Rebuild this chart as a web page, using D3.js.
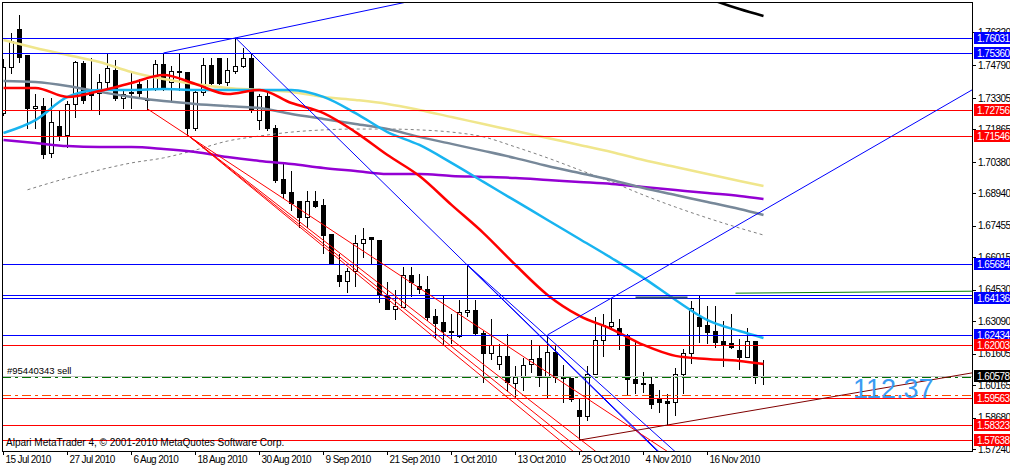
<!DOCTYPE html>
<html><head><meta charset="utf-8">
<script src="https://cdn.jsdelivr.net/npm/d3@7"></script>
<style>
body{margin:0;background:#fff}
svg{display:block}
text{font-family:"Liberation Sans",Arial,sans-serif}
</style>
</head><body>
<svg id="c" width="1010" height="468"></svg>
<script>
// ---------- DATA ----------
const dates = ["15 Jul","16 Jul","19 Jul","20 Jul","21 Jul","22 Jul","23 Jul","26 Jul","27 Jul","28 Jul","29 Jul","30 Jul",
"2 Aug","3 Aug","4 Aug","5 Aug","6 Aug","9 Aug","10 Aug","11 Aug","12 Aug","13 Aug","16 Aug","17 Aug","18 Aug","19 Aug","20 Aug","23 Aug","24 Aug","25 Aug","26 Aug","27 Aug","30 Aug","31 Aug",
"1 Sep","2 Sep","3 Sep","6 Sep","7 Sep","8 Sep","9 Sep","10 Sep","13 Sep","14 Sep","15 Sep","16 Sep","17 Sep","20 Sep","21 Sep","22 Sep","23 Sep","24 Sep","27 Sep","28 Sep","29 Sep","30 Sep",
"1 Oct","4 Oct","5 Oct","6 Oct","7 Oct","8 Oct","11 Oct","12 Oct","13 Oct","14 Oct","15 Oct","18 Oct","19 Oct","20 Oct","21 Oct","22 Oct","25 Oct","26 Oct","27 Oct","28 Oct","29 Oct",
"1 Nov","2 Nov","3 Nov","4 Nov","5 Nov","8 Nov","9 Nov","10 Nov","11 Nov","12 Nov","15 Nov","16 Nov","17 Nov","18 Nov","19 Nov","22 Nov","23 Nov","24 Nov","25 Nov"];

const open = [1.7261,1.7472,1.7646,1.7527,1.7284,1.7293,1.7078,1.7202,1.7161,1.7303,
1.7490,1.7358,1.7353,1.7403,1.7458,1.7330,1.7358,1.7394,1.7325,1.7376,
1.7486,1.7403,1.7454,1.7449,1.7193,1.7358,1.7481,1.7513,1.7403,1.7454,
1.7476,1.7513,1.7229,1.7339,1.7193,1.6959,1.6900,1.6859,1.6786,1.6859,
1.6841,1.6708,1.6520,1.6493,1.6539,1.6667,1.6694,1.6680,1.6424,1.6365,
1.6374,1.6520,1.6470,1.6456,1.6333,1.6305,1.6264,1.6241,1.6351,1.6360,
1.6255,1.6163,1.6113,1.6150,1.6026,1.6054,1.6113,1.6141,1.6054,1.6168,
1.6054,1.6049,1.5903,1.5875,1.6067,1.6223,1.6287,1.6278,1.6246,1.6044,
1.6026,1.6022,1.5953,1.5944,1.5939,1.6067,1.6163,1.6328,1.6292,1.6264,
1.6218,1.6209,1.6177,1.6145,1.6218,1.6054];
const high = [1.7513,1.7632,1.7714,1.7527,1.7353,1.7335,1.7335,1.7275,1.7321,1.7504,
1.7504,1.7518,1.7444,1.7536,1.7509,1.7367,1.7458,1.7422,1.7417,1.7509,
1.7536,1.7481,1.7536,1.7449,1.7367,1.7518,1.7518,1.7518,1.7518,1.7605,
1.7563,1.7541,1.7353,1.7367,1.7211,1.7042,1.7001,1.6859,1.6909,1.6909,
1.6873,1.6708,1.6621,1.6557,1.6708,1.6740,1.6699,1.6680,1.6493,1.6456,
1.6561,1.6561,1.6529,1.6520,1.6369,1.6429,1.6346,1.6411,1.6566,1.6411,
1.6269,1.6324,1.6209,1.6255,1.6109,1.6145,1.6228,1.6200,1.6246,1.6200,
1.6113,1.6054,1.5958,1.6109,1.6333,1.6346,1.6415,1.6324,1.6255,1.6223,
1.6081,1.6058,1.5999,1.5980,1.6099,1.6186,1.6406,1.6429,1.6383,1.6383,
1.6314,1.6346,1.6232,1.6282,1.6218,1.6136];
const low = [1.7252,1.7444,1.7495,1.7193,1.7193,1.7056,1.7060,1.7138,1.7106,1.7243,
1.7307,1.7275,1.7257,1.7367,1.7321,1.7284,1.7284,1.7335,1.7280,1.7367,
1.7367,1.7321,1.7367,1.7161,1.7184,1.7344,1.7394,1.7394,1.7390,1.7444,
1.7472,1.7266,1.7188,1.7184,1.6946,1.6873,1.6818,1.6740,1.6740,1.6831,
1.6621,1.6571,1.6470,1.6443,1.6470,1.6603,1.6575,1.6397,1.6365,1.6319,
1.6374,1.6424,1.6438,1.6314,1.6232,1.6200,1.6209,1.6237,1.6333,1.6246,
1.6031,1.6136,1.6090,1.5990,1.5962,1.5994,1.6077,1.6012,1.5962,1.6031,
1.5939,1.5944,1.5765,1.5857,1.6067,1.6150,1.6282,1.6182,1.5971,1.5980,
1.5985,1.5912,1.5894,1.5834,1.5880,1.5980,1.6118,1.6214,1.6209,1.6191,
1.6104,1.6186,1.6090,1.6145,1.6026,1.6022];
const close = [1.7472,1.7591,1.7518,1.7284,1.7293,1.7074,1.7220,1.7161,1.7303,1.7495,
1.7321,1.7344,1.7403,1.7467,1.7330,1.7348,1.7353,1.7353,1.7321,1.7486,
1.7371,1.7454,1.7449,1.7193,1.7358,1.7481,1.7399,1.7399,1.7458,1.7476,
1.7513,1.7275,1.7339,1.7193,1.6955,1.6895,1.6850,1.6786,1.6859,1.6836,
1.6703,1.6571,1.6493,1.6539,1.6667,1.6685,1.6685,1.6433,1.6365,1.6378,
1.6520,1.6488,1.6456,1.6328,1.6301,1.6264,1.6260,1.6351,1.6360,1.6255,
1.6163,1.6200,1.6150,1.6031,1.6054,1.6109,1.6136,1.6054,1.6168,1.6054,
1.6049,1.5953,1.5875,1.6067,1.6223,1.6292,1.6305,1.6246,1.6044,1.6026,
1.6022,1.5930,1.5939,1.5935,1.6067,1.6163,1.6369,1.6287,1.6260,1.6214,
1.6205,1.6191,1.6145,1.6218,1.6054,1.6058];

const xTickIndex = [0,8,16,24,32,40,48,56,64,72,80,88];
const xTickLabels = ["15 Jul 2010","27 Jul 2010","6 Aug 2010","18 Aug 2010","30 Aug 2010","9 Sep 2010",
  "21 Sep 2010","1 Oct 2010","13 Oct 2010","25 Oct 2010","4 Nov 2010","16 Nov 2010"];
const yTickValues = [1.76320,1.74790,1.73305,1.71865,1.70380,1.68940,1.67455,1.66015,1.64530,1.63090,1.61605,1.60165,1.58680,1.57240];

// moving averages sampled at bars
const maBars   = [0,4,8,12,16,20,24,28,32,36,40,44,48,52,56,60,64,68,72,76,80,84,88,92,95];
const maRed    = [1.7376,1.7376,1.7335,1.7362,1.7399,1.7435,1.7394,1.7348,1.7367,1.7307,1.7261,1.7174,1.7069,1.6973,1.6841,1.6712,1.6566,1.6429,1.6333,1.6273,1.6200,1.6150,1.6136,1.6127,1.6113];
const maCyan   = [1.7170,1.7229,1.7335,1.7367,1.7367,1.7371,1.7367,1.7367,1.7367,1.7367,1.7335,1.7261,1.7174,1.7115,1.7033,1.6946,1.6859,1.6772,1.6685,1.6598,1.6507,1.6406,1.6314,1.6264,1.6232];
const maKhaki  = [1.7595,1.7559,1.7527,1.7495,1.7449,1.7417,1.7394,1.7376,1.7367,1.7358,1.7335,1.7321,1.7303,1.7275,1.7243,1.7211,1.7179,1.7147,1.7115,1.7083,1.7046,1.7014,1.6982,1.6950,1.6927];
const maGray   = [1.7408,1.7403,1.7385,1.7358,1.7335,1.7316,1.7303,1.7293,1.7284,1.7257,1.7234,1.7211,1.7188,1.7152,1.7120,1.7088,1.7055,1.7019,1.6987,1.6955,1.6918,1.6886,1.6854,1.6822,1.6795];
const maPurple = [1.7138,1.7124,1.7110,1.7106,1.7106,1.7097,1.7083,1.7060,1.7042,1.7028,1.7010,1.6996,1.6982,1.6982,1.6973,1.6969,1.6964,1.6955,1.6946,1.6937,1.6923,1.6909,1.6895,1.6882,1.6868];
const maDashBars = [3,8,12,16,20,24,28,32,36,40,44,48,52,56,60,64,68,72,76,80,84,88,92,95];
const maDash     = [1.6910,1.6964,1.7001,1.7033,1.7056,1.7092,1.7133,1.7156,1.7174,1.7184,1.7188,1.7188,1.7184,1.7174,1.7152,1.7106,1.7056,1.7001,1.6946,1.6886,1.6831,1.6781,1.6735,1.6703];
const maBlackBars = [86,89,92,95];
const maBlack     = [1.7815,1.7774,1.7737,1.7705];

// horizontal levels
const levelsBlue = [1.76031,1.75360,1.65684,1.64283,1.64136,1.62434];
const levelsRed  = [1.72756,1.71546,1.62003,1.59563,1.58323,1.57638];
const bidPrice = 1.60578;
const orderPrice = 1.6052;
const orderStop = 1.5970;
const orderLabel = "#95440343 sell";
const labelsBlue = [1.76031,1.75360,1.65684,1.64136,1.62434];
const labelsRed  = [1.72756,1.71546,1.62003,1.59563,1.58323,1.57638];

// trend lines (rays): [bar1, price1, bar2, price2]
const raysBlue = [[20,1.7536,29,1.7605],[29,1.7605,52,1.6780],[58,1.6566,68,1.6209],[58,1.6566,68,1.6237],[68,1.6246,76,1.6415]];
const raysRed  = [[18,1.7280,52,1.6460],[23,1.7161,63,1.5960],[23,1.7161,63,1.5988],[23,1.7161,63,1.6026]];
const raysMaroon = [[72,1.5765,95,1.5909]];
const raysGreen  = [[91.5,1.6437,121,1.6446]];
const segDark = [[79,1.6421,85.5,1.6421]];
const pipsText = "112.37";
const copyright = "Alpari MetaTrader 4, \u00A9 2001-2010 MetaQuotes Software Corp.";

// ---------- DRAW ----------
const svg = d3.select("#c");
const L = 2, R = 972, T = 2, B = 451;
const x = d3.scaleLinear().domain([0, 95]).range([3.5, 763.5]);
const y = d3.scaleLinear().domain([1.5724, 1.7632]).range([449, 32]);
const py = p => Math.round(y(p)) + 0.5;

svg.append("defs").append("clipPath").attr("id","clip")
  .append("rect").attr("x",L).attr("y",T).attr("width",R-L).attr("height",B-T);
const plot = svg.append("g").attr("clip-path","url(#clip)");

// candles
const idx = d3.range(dates.length);
const cg = plot.append("g");
cg.selectAll("line.w").data(idx).join("line")
  .attr("x1",i=>x(i)).attr("x2",i=>x(i))
  .attr("y1",i=>py(high[i])).attr("y2",i=>py(low[i]))
  .attr("stroke","#000").attr("stroke-width",1).attr("shape-rendering","crispEdges");
cg.selectAll("rect.b").data(idx).join("rect")
  .attr("x",i=>x(i)-2).attr("width",4)
  .attr("y",i=>py(Math.max(open[i],close[i])))
  .attr("height",i=>Math.max(0, py(Math.min(open[i],close[i])) - py(Math.max(open[i],close[i]))))
  .attr("fill",i=>close[i] >= open[i] ? "#fff" : "#000")
  .attr("stroke","#000").attr("stroke-width",1).attr("shape-rendering","crispEdges");

// moving averages
function ma(bars, vals, color, width, dash) {
  const line = d3.line().x((d,k)=>x(bars[k])).y(d=>y(d)).curve(d3.curveMonotoneX);
  plot.append("path").attr("d", line(vals)).attr("fill","none")
    .attr("stroke",color).attr("stroke-width",width)
    .attr("stroke-dasharray", dash || null);
}
ma(maDashBars, maDash, "#808080", 1, "3,3");
ma(maBars, maPurple, "#9400D3", 2.5);
ma(maBars, maGray, "#778899", 2.5);
ma(maBars, maKhaki, "#F0E68C", 2.5);
ma(maBars, maCyan, "#18B4F0", 2.5);
ma(maBars, maRed, "#FF0000", 2.5);
ma(maBlackBars, maBlack, "#000000", 2.5);

// horizontal levels
function hline(p, color, dash) {
  plot.append("line").attr("x1",L).attr("x2",R).attr("y1",py(p)).attr("y2",py(p))
    .attr("stroke",color).attr("stroke-width",1).attr("stroke-dasharray",dash||null)
    .attr("shape-rendering","crispEdges");
}
levelsBlue.forEach(p=>hline(p,"#0000FF"));
levelsRed.forEach(p=>hline(p,"#FF0000"));
hline(bidPrice, "#C0C0C0");
hline(orderPrice, "#007000", "9,4,3,4");
hline(orderStop, "#FF4500", "9,4,3,4");

// rays
function ray(r, color, w) {
  const [i1,p1,i2,p2] = r;
  const i3 = 140;
  const p3 = p1 + (p2-p1)*(i3-i1)/(i2-i1);
  plot.append("line").attr("x1",x(i1)).attr("y1",y(p1)).attr("x2",x(i3)).attr("y2",y(p3))
    .attr("stroke",color).attr("stroke-width",w||1);
}
raysGreen.forEach(r=>ray(r,"#008000"));
raysBlue.forEach(r=>ray(r,"#0000FF"));
raysRed.forEach(r=>ray(r,"#FF0000"));
raysMaroon.forEach(r=>ray(r,"#800000"));
segDark.forEach(s=>{
  plot.append("line").attr("x1",x(s[0])).attr("y1",py(s[1])).attr("x2",x(s[2])).attr("y2",py(s[3]))
    .attr("stroke","#2F4F6F").attr("stroke-width",2);
});

// order label
plot.append("text").attr("x",7).attr("y",py(bidPrice)-2.5)
  .attr("font-size","9.5px").attr("fill","#000").text(orderLabel);

// pips text
plot.append("text").attr("x",853).attr("y",398).attr("font-size","27px")
  .attr("fill","#3A9BF2").text(pipsText);

// copyright
plot.append("text").attr("x",6).attr("y",445.5).attr("font-size","10px").attr("fill","#000").text(copyright);

// frame
svg.append("rect").attr("x",L+0.5).attr("y",T+0.5).attr("width",R-L).attr("height",B-T-0.5)
  .attr("fill","none").attr("stroke","#000").attr("stroke-width",1).attr("shape-rendering","crispEdges");

// x axis
const xa = svg.append("g").attr("transform",`translate(0,${B})`);
xTickIndex.forEach((i,k)=>{
  xa.append("line").attr("x1",x(i)).attr("x2",x(i)).attr("y1",0).attr("y2",4)
    .attr("stroke","#000").attr("shape-rendering","crispEdges");
  xa.append("text").attr("x",x(i)+2).attr("y",12).attr("font-size","10px")
    .attr("letter-spacing","-0.6px").attr("fill","#000").text(xTickLabels[k]);
});

// y axis
const ya = svg.append("g").attr("transform",`translate(${R},0)`);
ya.call(d3.axisRight(y).tickValues(yTickValues).tickFormat(d3.format(".5f")).tickSize(4).tickPadding(2));
ya.select(".domain").remove();
ya.selectAll(".tick line").attr("stroke","#000").attr("shape-rendering","crispEdges");
ya.selectAll(".tick text").attr("font-size","10px").attr("letter-spacing","-0.5px")
  .attr("font-family",'"Liberation Sans",Arial,sans-serif').attr("fill","#000");

// price boxes
function box(p, color) {
  const yy = Math.round(y(p));
  svg.append("rect").attr("x",974).attr("y",yy-6).attr("width",40).attr("height",12).attr("fill",color);
  svg.append("text").attr("x",977).attr("y",yy+4).attr("font-size","10px").attr("letter-spacing","-0.5px")
    .attr("fill","#fff").text(d3.format(".5f")(p));
}
labelsBlue.forEach(p=>box(p,"#0000FF"));
labelsRed.forEach(p=>box(p,"#FF0000"));
box(bidPrice, "#000000");
</script>
</body></html>
